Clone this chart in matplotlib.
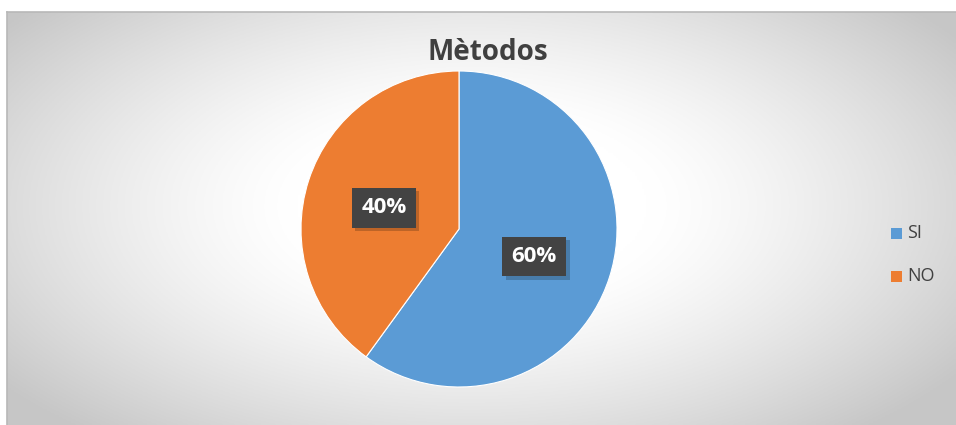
import numpy as np
import matplotlib.pyplot as plt
from matplotlib import patheffects as pe

# Dades
labels = ['SI', 'NO']
values = [60, 40]
colors = ['#5B9BD5', '#ED7D31']
title = 'Mètodos'

W, H = 956, 425
fig = plt.figure(figsize=(W / 100, H / 100), dpi=100)
fig.patch.set_facecolor('white')

# Fons amb degradat radial (àrea del gràfic)
x0, y0 = 7, 12
bg = fig.add_axes([x0 / W, 0, 1 - x0 / W, 1 - y0 / H])
gx, gy = np.meshgrid(np.linspace(0, 1, 400), np.linspace(0, 1, 200))
d = np.sqrt(((gx - 0.49) / 0.62) ** 2 + ((gy - 0.53) / 0.72) ** 2)
d = np.clip((d - 0.3) / 0.7, 0, 1)
shade = 1 - 0.22 * d ** 1.3
bg.imshow(np.dstack([shade] * 3), extent=[0, 1, 0, 1], aspect='auto', origin='lower')
bg.set_xticks([])
bg.set_yticks([])
for s in ['right', 'bottom']:
    bg.spines[s].set_visible(False)
for s in ['left', 'top']:
    bg.spines[s].set_color('#b8b8b8')
    bg.spines[s].set_linewidth(1.2)

# Pastís
r = 158
cx, cy = 459, 229
ax = fig.add_axes([(cx - r) / W, (H - cy - r) / H, 2 * r / W, 2 * r / H])
ax.set_facecolor('none')
wedges, _ = ax.pie(values, colors=colors, startangle=90, counterclock=False,
                   wedgeprops=dict(edgecolor='white', linewidth=0.8))
ax.set_xlim(-1, 1)
ax.set_ylim(-1, 1)

# Etiquetes de percentatge
total = sum(values)
ang = 90
for w, v in zip(wedges, values):
    mid = np.deg2rad(ang - v / total * 360 / 2)
    ang -= v / total * 360
    t = ax.text(0.5 * np.cos(mid), 0.5 * np.sin(mid) - 0.02, f'{v}%',
                ha='center', va='center', color='white', fontsize=16,
                fontweight='bold', family='Open Sans',
                bbox=dict(boxstyle='square,pad=0.42', facecolor='#434343',
                          edgecolor='none', linewidth=0))
    t.get_bbox_patch().set_path_effects([
        pe.SimplePatchShadow(offset=(2.5, -2.5), shadow_rgbFace='#000000', alpha=0.2),
        pe.Normal()])

fig.text(488 / W, 1 - 53 / H, title, ha='center', va='center', fontsize=20,
         fontweight='bold', color='#404040', family='Open Sans')

# Llegenda
for i, (lab, c) in enumerate(zip(labels, colors)):
    yy = 1 - (233 + i * 43) / H
    fig.patches.append(plt.Rectangle((891 / W, yy - 5.5 / H), 11 / W, 11 / H,
                                     transform=fig.transFigure, facecolor=c,
                                     edgecolor='none'))
    fig.text(907 / W, yy, lab, ha='left', va='center', fontsize=13,
             color='#404040', family='Open Sans')

fig.savefig('out.png', dpi=100)
